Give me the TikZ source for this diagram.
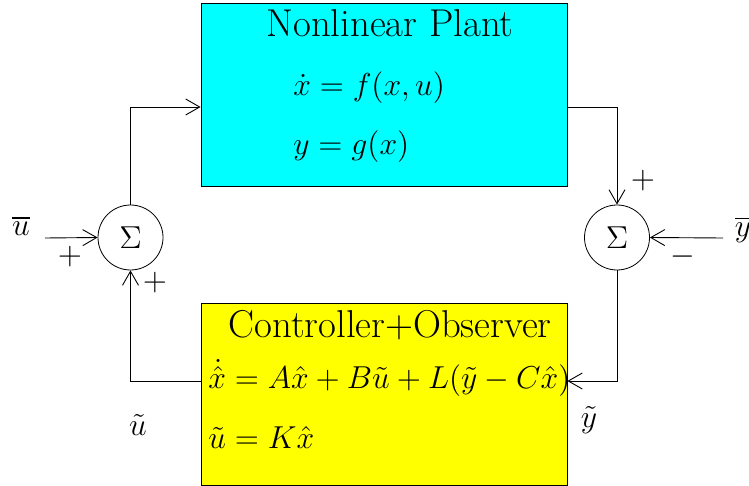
\documentclass[tikz,border=0pt]{standalone}
\usepackage{fix-cm}
\usepackage{amsmath, amssymb}
\usepackage{tikz}
\usetikzlibrary{calc}
\usetikzlibrary{arrows.meta, positioning}
\definecolor{figcyan}{RGB}{0,255,255}
\definecolor{figyellow}{RGB}{255,255,0}
\newcommand{\eqsize}{\fontsize{15.85}{19}\selectfont}
\newcommand{\titlesize}{\rmfamily\fontsize{19.4}{23}\selectfont}

\begin{document}
\begin{tikzpicture}[
    x=0.5pt, y=-0.5pt,
    block/.style={draw, inner sep=0pt, minimum width=183pt, minimum height=91.5pt},
    sumnode/.style={circle, draw, inner sep=0pt, minimum size=32.5pt, font=\eqsize},
    sig/.style={-{Straight Barb[length=7pt, width=8pt]}, line width=0.45pt},
    lbl/.style={font=\eqsize, inner sep=0pt},
    title/.style={font=\titlesize, inner sep=0pt}
]
\useasboundingbox (0,0) rectangle (749,486);
% Plant block
\node[block, fill=figcyan] (plant) at (384,94.5) {};
\node[title] (ptitle) at (390,23) {Nonlinear Plant};
\node[lbl, anchor=west] (peq1) at (293,88) {$\dot{x} = f(x,u)$};
\node[lbl, anchor=west] (peq2) at (293,147) {$y = g(x)$};
% Controller block
\node[block, fill=figyellow, minimum height=91pt] (ctrl) at (384,394) {};
\node[title] (ctitle) at (390,325) {Controller+Observer};
% Summing junctions
\node[sumnode] (sumL) at (130.5,237.5) {$\Sigma$};
\node[sumnode] (sumR) at (617,237.5) {$\Sigma$};
% Loop
\draw[sig] (sumL.north) |- ([yshift=-6.25pt]plant.west);
\draw[sig] ([yshift=-6.25pt]plant.east) -| (sumR.north);
\draw[sig] (sumR.south) |- ([yshift=6.5pt]ctrl.east);
\draw[sig] ([yshift=6.5pt]ctrl.west) -| (sumL.south);
\node[lbl, anchor=west] (ceq1) at (208,378) {$\dot{\hat{x}} = A\hat{x} + B\tilde{u} + L(\tilde{y} - C\hat{x})$};
\node[lbl, anchor=west] (ceq2) at (208,437) {$\tilde{u} = K\hat{x}$};
% Reference inputs
\coordinate (uin) at (45,238);
\coordinate (yin) at (723,238);
\node[lbl] (ubar) at (21,226) {$\overline{u}$};
\node[lbl] (ybar) at (743,230) {$\overline{y}$};
\draw[sig] (uin) -- (sumL.west);
\draw[sig] (yin) -- (sumR.east);
% Signs
\node[lbl] (pu) at (70,257) {$+$};
\node[lbl] (pl) at (155,283) {$+$};
\node[lbl] (pr) at (643,181) {$+$};
\node[lbl] (my) at (683,257) {$-$};
% Signal names
\node[lbl] (ut) at (138,425) {$\tilde{u}$};
\node[lbl] (yt) at (589,420) {$\tilde{y}$};
\end{tikzpicture}
\end{document}
